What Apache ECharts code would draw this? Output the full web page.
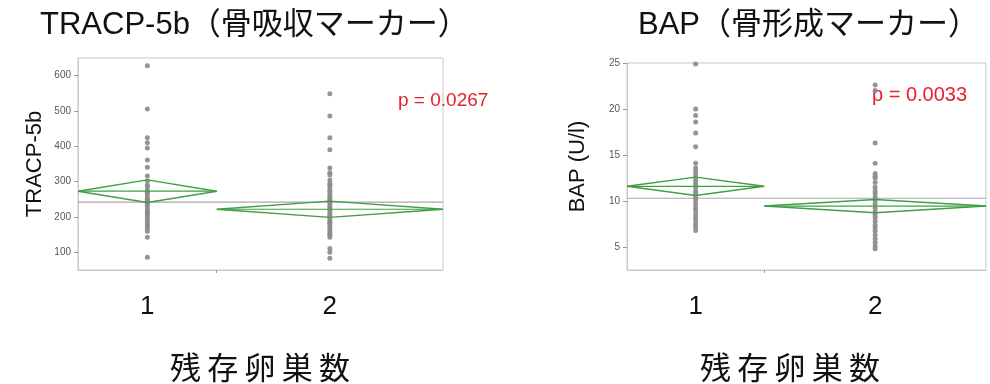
<!DOCTYPE html>
<html>
<head>
<meta charset="utf-8">
<script src="https://cdn.jsdelivr.net/npm/echarts@6/dist/echarts.min.js"></script>
<style>
  html, body { margin: 0; padding: 0; background: #fff; }
  #chart { width: 990px; height: 384px; }
</style>
</head>
<body>
<div id="chart"></div>
<script>
// Group labels (remaining ovary count) and group sizes
const groupLabels = ['1', '2'];
const tracpN = [38, 62];
const bapN = [39, 63];

// TRACP-5b individual values per group
const tracpG1 = [628, 506, 424, 410, 395, 361, 341, 316, 302, 290, 285, 275, 270, 265, 256, 250, 245, 240, 235, 228, 220, 215, 211, 205, 197, 190, 182, 175, 168, 160, 143, 86];
const tracpG2 = [549, 486, 424, 390, 339, 325, 319, 305, 295, 290, 285, 276, 270, 262, 256, 250, 245, 239, 232, 226, 219, 212, 205, 199, 192, 185, 182, 175, 168, 162, 155, 150, 143, 111, 100, 83];
// TRACP-5b group means, 95% CI half-widths, grand mean
const tracpMean = [273, 222];
const tracpCI = [32, 23];
const tracpGrand = 242;

// BAP individual values per group
const bapG1 = [24.9, 20.0, 19.3, 18.6, 17.4, 15.9, 14.1, 13.6, 13.2, 12.8, 12.4, 12.1, 11.8, 11.5, 11.1, 10.8, 10.4, 10.1, 9.7, 9.3, 9.0, 8.6, 8.2, 7.9, 7.5, 7.2, 6.8];
const bapG2 = [22.6, 22.0, 16.3, 14.1, 13.0, 12.7, 12.5, 12.0, 11.5, 11.1, 10.8, 10.4, 10.1, 9.7, 9.2, 8.8, 8.5, 8.2, 7.8, 7.4, 7.1, 6.7, 6.3, 5.9, 5.5, 5.1, 4.8];
const bapMean = [11.6, 9.45];
const bapCI = [1.0, 0.72];
const bapGrand = 10.3;

// Axis ticks
const tracpTicks = [100, 200, 300, 400, 500, 600];
const bapTicks = [5, 10, 15, 20, 25];

const pTexts = ['p = 0.0267', 'p = 0.0033'];
const titles = ['TRACP-5b\uFF08骨吸収マーカー\uFF09', 'BAP\uFF08骨形成マーカー\uFF09'];
const yNames = ['TRACP-5b', 'BAP (U/l)'];
const xName = '残存卵巣数';

const GREEN = '#3f9f45';
const POINT = '#8a8a8a';
const FRAME = '#c8c8c8';

function layout(n) {
  const b = n[0] / (n[0] + n[1]);
  return { b: b, c: [b / 2, (b + 1) / 2] };
}

function panelSeries(idx, n, g1, g2, mean, ci, grand) {
  const L = layout(n);
  const bounds = [[0, L.b], [L.b, 1]];
  const series = [];
  // grand mean line
  series.push({
    type: 'line', xAxisIndex: idx, yAxisIndex: idx, symbol: 'none', silent: true,
    lineStyle: { color: '#a8a8a8', width: 1.2 },
    data: [[0, grand], [1, grand]], z: 2
  });
  // points
  [g1, g2].forEach(function (vals, g) {
    series.push({
      type: 'scatter', xAxisIndex: idx, yAxisIndex: idx, symbolSize: 5,
      itemStyle: { color: POINT, opacity: 0.9 },
      data: vals.map(function (v) { return [L.c[g], v]; }), z: 3
    });
  });
  // means diamonds
  for (let g = 0; g < 2; g++) {
    const x0 = bounds[g][0], x1 = bounds[g][1], xc = L.c[g];
    const m = mean[g], h = ci[g];
    series.push({
      type: 'line', xAxisIndex: idx, yAxisIndex: idx, symbol: 'none', silent: true,
      lineStyle: { color: GREEN, width: 1.4 },
      data: [[x0, m], [xc, m + h], [x1, m], [xc, m - h], [x0, m]], z: 4
    });
    series.push({
      type: 'line', xAxisIndex: idx, yAxisIndex: idx, symbol: 'none', silent: true,
      lineStyle: { color: GREEN, width: 1.2 },
      data: [[x0, m], [x1, m]], z: 4
    });
  }
  return series;
}

function xAxisFor(idx, n) {
  const L = layout(n);
  return {
    type: 'value', gridIndex: idx, min: 0, max: 1,
    axisLine: { show: true, lineStyle: { color: FRAME } },
    axisTick: { show: true, customValues: [L.b], length: 3, lineStyle: { color: '#999' } },
    axisLabel: {
      show: true, customValues: L.c, margin: 24,
      fontFamily: 'Liberation Sans, Arial, sans-serif', fontSize: 26, color: '#111',
      formatter: function (v) { return v < L.b ? groupLabels[0] : groupLabels[1]; }
    },
    splitLine: { show: false }
  };
}

function yAxisFor(idx, min, max, ticks, name, gap) {
  return {
    type: 'value', gridIndex: idx, min: min, max: max,
    axisLine: { show: true, lineStyle: { color: FRAME } },
    axisTick: { show: true, customValues: ticks, length: 4, lineStyle: { color: '#999' } },
    axisLabel: {
      show: true, customValues: ticks, margin: 7,
      fontFamily: 'Liberation Sans, Arial, sans-serif', fontSize: 10, color: '#555'
    },
    splitLine: { show: false },
    name: name, nameLocation: 'middle', nameGap: gap, nameRotate: 90,
    nameTextStyle: { fontFamily: 'Liberation Sans, Arial, sans-serif', fontSize: 22, color: '#111' }
  };
}

const chart = echarts.init(document.getElementById('chart'), null, { renderer: 'canvas' });

// x-axis title, letter-spaced like the printed figure
const xNameSpaced = xName.split('').join('\u2009');
const xNameFont = '31px "Noto Sans CJK JP", sans-serif';

const option = {
  backgroundColor: '#fff',
  animation: false,
  grid: [
    { left: 78, top: 58, width: 365, height: 212, show: true, borderColor: FRAME, borderWidth: 1, backgroundColor: 'transparent' },
    { left: 627, top: 63, width: 359, height: 207, show: true, borderColor: FRAME, borderWidth: 1, backgroundColor: 'transparent' }
  ],
  xAxis: [xAxisFor(0, tracpN), xAxisFor(1, bapN)],
  yAxis: [
    yAxisFor(0, 50, 650, tracpTicks, yNames[0], 32),
    yAxisFor(1, 2.5, 25, bapTicks, yNames[1], 38)
  ],
  series: []
    .concat(panelSeries(0, tracpN, tracpG1, tracpG2, tracpMean, tracpCI, tracpGrand))
    .concat(panelSeries(1, bapN, bapG1, bapG2, bapMean, bapCI, bapGrand)),
  graphic: [
    { type: 'text', left: 40, top: 10, style: { text: titles[0], font: '31px "Liberation Sans", "Noto Sans CJK JP", sans-serif', fill: '#111' } },
    { type: 'text', left: 638, top: 10, style: { text: titles[1], font: '31px "Liberation Sans", "Noto Sans CJK JP", sans-serif', fill: '#111' } },
    { type: 'text', x: 260, y: 367, style: { text: xNameSpaced, font: xNameFont, fill: '#111', align: 'center', verticalAlign: 'middle' } },
    { type: 'text', x: 790, y: 367, style: { text: xNameSpaced, font: xNameFont, fill: '#111', align: 'center', verticalAlign: 'middle' } },
    { type: 'text', left: 398, top: 91, style: { text: pTexts[0], font: '19px "Liberation Sans", Arial, sans-serif', fill: '#e8202e' } },
    { type: 'text', left: 872, top: 85, style: { text: pTexts[1], font: '20px "Liberation Sans", Arial, sans-serif', fill: '#e8202e' } }
  ]
};

chart.setOption(option);
</script>
</body>
</html>
